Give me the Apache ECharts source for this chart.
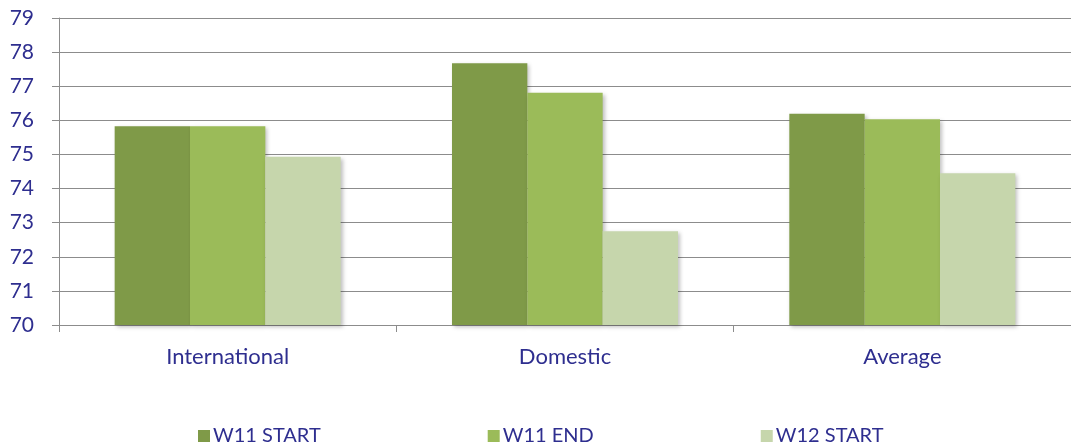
<!DOCTYPE html>
<html>
<head>
<meta charset="utf-8">
<script src="https://cdn.jsdelivr.net/npm/echarts@6/dist/echarts.min.js"></script>
<style>
html,body{margin:0;padding:0;background:#fff;}
#chart{width:1071px;height:445px;}
</style>
</head>
<body>
<div id="chart"></div>
<script>
const categories = ["International", "Domestic", "Average"];
const seriesNames = ["W11 START", "W11 END", "W12 START"];
const w11Start = [75.83, 77.67, 76.19];
const w11End = [75.83, 76.81, 76.03];
const w12Start = [74.93, 72.75, 74.45];
const yTicks = [70, 71, 72, 73, 74, 75, 76, 77, 78, 79];

const colors = ["#7F9A48", "#9BBB59", "#C6D6AC"];
const textColor = "#2E2E8F";
const font = "Lato, 'Open Sans', sans-serif";

const chart = echarts.init(document.getElementById('chart'));
const values = [w11Start, w11End, w12Start];
chart.setOption({
  animation: false,
  grid: { left: 59, width: 1017, top: 18, bottom: 120 },
  legend: {
    data: seriesNames,
    left: 193, top: 421,
    icon: 'rect', itemWidth: 12, itemHeight: 12, itemGap: 167,
    textStyle: { color: textColor, fontSize: 20, fontFamily: font, padding: [0,0,0,-2] }
  },
  xAxis: {
    type: 'category', data: categories,
    axisLine: { lineStyle: { color: '#8C8C8C', width: 1 } },
    axisTick: { show: true, length: 7, lineStyle: { color: '#8C8C8C' } },
    axisLabel: { color: textColor, fontSize: 22, fontFamily: font, margin: 21 }
  },
  yAxis: {
    type: 'value', min: yTicks[0], max: yTicks[yTicks.length - 1], interval: 1,
    axisLine: { show: true, lineStyle: { color: '#8C8C8C' } },
    axisTick: { show: true, length: 7, lineStyle: { color: '#8C8C8C' } },
    axisLabel: { color: textColor, fontSize: 21, fontFamily: font, margin: 25 },
    splitLine: { lineStyle: { color: '#8C8C8C', width: 1.2 } }
  },
  series: seriesNames.map((n, i) => ({
    name: n, type: 'bar', data: values[i],
    barGap: '0%', barCategoryGap: '33%',
    itemStyle: {
      color: colors[i],
      shadowBlur: 4, shadowOffsetX: 2, shadowOffsetY: 2, shadowColor: 'rgba(0,0,0,0.25)'
    }
  }))
});
</script>
</body>
</html>
